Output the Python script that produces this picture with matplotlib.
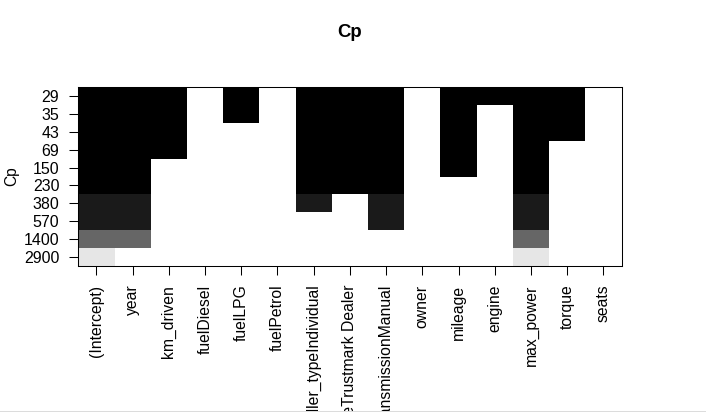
import numpy as np
import matplotlib
matplotlib.use("Agg")
import matplotlib.pyplot as plt
from matplotlib.colors import ListedColormap
from matplotlib.patches import Rectangle

variables = ["(Intercept)", "year", "km_driven", "fuelDiesel", "fuelLPG", "fuelPetrol",
             "seller_typeIndividual", "seller_typeTrustmark Dealer", "transmissionManual",
             "owner", "mileage", "engine", "max_power", "torque", "seats"]

# models listed top (best Cp) to bottom
cp_values = [29, 35, 43, 69, 150, 230, 380, 570, 1400, 2900]
cp_labels = ["29", "35", "43", "69", "150", "230", "380", "570", "1400", "2900"]

included = [
    [1, 1, 1, 0, 1, 0, 1, 1, 1, 0, 1, 1, 1, 1, 0],
    [1, 1, 1, 0, 1, 0, 1, 1, 1, 0, 1, 0, 1, 1, 0],
    [1, 1, 1, 0, 0, 0, 1, 1, 1, 0, 1, 0, 1, 1, 0],
    [1, 1, 1, 0, 0, 0, 1, 1, 1, 0, 1, 0, 1, 0, 0],
    [1, 1, 0, 0, 0, 0, 1, 1, 1, 0, 1, 0, 1, 0, 0],
    [1, 1, 0, 0, 0, 0, 1, 1, 1, 0, 0, 0, 1, 0, 0],
    [1, 1, 0, 0, 0, 0, 1, 0, 1, 0, 0, 0, 1, 0, 0],
    [1, 1, 0, 0, 0, 0, 0, 0, 1, 0, 0, 0, 1, 0, 0],
    [1, 1, 0, 0, 0, 0, 0, 0, 0, 0, 0, 0, 1, 0, 0],
    [1, 0, 0, 0, 0, 0, 0, 0, 0, 0, 0, 0, 1, 0, 0],
]

plt.rcParams['font.family'] = ['Liberation Sans', 'DejaVu Sans']

fig = plt.figure(figsize=(7.06, 4.13), dpi=100)
fig.patch.set_facecolor('white')
L, R, T, B = 78.3, 621.5, 87.3, 265.7
W, H = 706, 413
ax = fig.add_axes([L / W, 1 - B / H, (R - L) / W, (B - T) / H])

inc = np.array(included, dtype=bool)
cp = np.array(cp_values, dtype=float)
z = np.ma.masked_where(~inc, np.repeat(cp[:, None], inc.shape[1], axis=1))

grays = [str(v) for v in np.linspace(0, 0.9, 10)]
cmap = ListedColormap(grays)
cmap.set_bad('white')

nrow, ncol = inc.shape
xe = np.arange(ncol + 1) + 0.5
ye = np.arange(nrow + 1) - 0.5
ax.pcolormesh(xe, ye, z, cmap=cmap, vmin=cp.min(), vmax=cp.max(), shading='flat')
ax.set_xlim(0.5, ncol + 0.5)
ax.set_ylim(nrow - 0.5, -0.5)

ax.set_xticks(np.arange(1, ncol + 1))
ax.set_xticklabels(variables, rotation=90, fontsize=11.3, ha='center', va='top')
ax.set_yticks(np.arange(nrow))
ax.set_yticklabels(cp_labels, fontsize=11.5)
ax.tick_params(axis='both', direction='out', length=6.8, width=0.75, color='black', pad=6.9)

for s in ax.spines.values():
    s.set_linewidth(0.75)
    s.set_color('black')

ax.set_ylabel("Cp", fontsize=11.2)
ax.yaxis.set_label_coords((19.5 - L) / (R - L), 0.5)

fig.text(349.5 / W, 1 - 37 / H, "Cp", fontsize=13.4, fontweight='bold',
         ha='center', va='baseline')

# bottom edge of the captured window
fig.add_artist(Rectangle((0, 0), 1, 1.5 / H, transform=fig.transFigure,
                         facecolor='white', edgecolor='none', zorder=10))
fig.add_artist(Rectangle((0, 1.5 / H), 1, 0.8 / H, transform=fig.transFigure,
                         facecolor='#dcdcdc', edgecolor='none', zorder=10))

fig.savefig("out.png", dpi=100)
